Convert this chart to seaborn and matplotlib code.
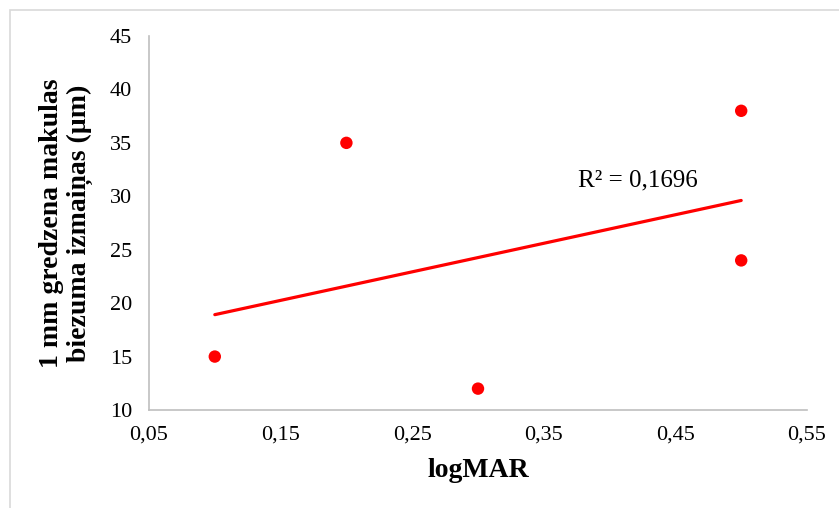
import numpy as np
import pandas as pd
import matplotlib
matplotlib.use("Agg")
import matplotlib.pyplot as plt
import seaborn as sns
from matplotlib.ticker import FuncFormatter, FixedLocator
from matplotlib.patches import Rectangle

logmar = [0.1, 0.2, 0.3, 0.5, 0.5]
thickness_change = [15, 35, 12, 38, 24]
x_ticks = [0.05, 0.15, 0.25, 0.35, 0.45, 0.55]
y_ticks = [10, 15, 20, 25, 30, 35, 40, 45]
x_label = "logMAR"
y_label = "1 mm gredzena makulas\nbiezuma izmaiņas (µm)"

df = pd.DataFrame({"x": logmar, "y": thickness_change})

sns.set_theme(style="white")
plt.rcParams["font.family"] = ["Liberation Serif", "DejaVu Serif"]

W, H = 839, 508
fig = plt.figure(figsize=(W / 100, H / 100), dpi=100)
ax = fig.add_axes([149 / W, 1 - 410 / H, (807 - 149) / W, (410 - 36) / H])

# outer light border
fig.patches.append(Rectangle((10 / W, -0.05), 1.2, 1 - 10 / H + 0.05,
                             transform=fig.transFigure, fill=False,
                             edgecolor="#d9d9d9", linewidth=1.2))

sns.regplot(data=df, x="x", y="y", scatter=False, ci=None, truncate=True,
            line_kws=dict(color="#ff0000", linewidth=2.3), ax=ax)
sns.scatterplot(data=df, x="x", y="y", color="#ff0000", s=80,
                edgecolor="none", ax=ax, zorder=3)

r = np.corrcoef(df["x"], df["y"])[0, 1]
ax.text(0.376, 30.9, ("R² = %.4f" % (r ** 2)).replace(".", ","),
        fontsize=18, va="baseline", ha="left", color="#000000")

ax.set_xlim(0.05, 0.55)
ax.set_ylim(10, 45)
ax.xaxis.set_major_locator(FixedLocator(x_ticks))
ax.yaxis.set_major_locator(FixedLocator(y_ticks))
ax.xaxis.set_major_formatter(FuncFormatter(lambda v, p: ("%.2f" % v).replace(".", ",")))
ax.yaxis.set_major_formatter(FuncFormatter(lambda v, p: "%d" % round(v)))
ax.tick_params(axis="both", length=0, labelsize=16, colors="#000000")
ax.tick_params(axis="x", pad=11)
ax.tick_params(axis="y", pad=12)

for s in ["top", "right"]:
    ax.spines[s].set_visible(False)
for s in ["left", "bottom"]:
    ax.spines[s].set_color("#bfbfbf")
    ax.spines[s].set_linewidth(1.2)

ax.set_xlabel(x_label, fontsize=20, fontweight="bold", labelpad=10, color="#000000")
ax.set_ylabel(y_label, fontsize=20, fontweight="bold", labelpad=12,
              color="#000000", linespacing=1.15)

fig.savefig("out.png", dpi=100, facecolor="white")
